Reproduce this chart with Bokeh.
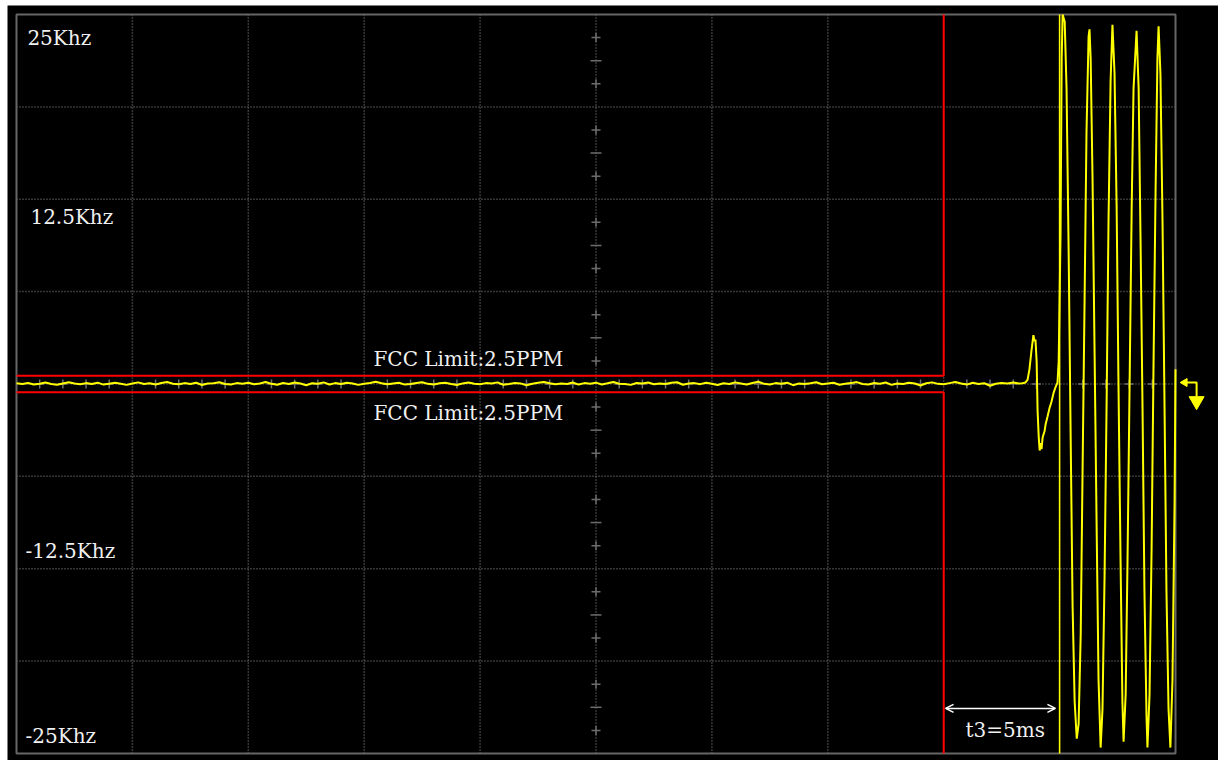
import numpy as np
from bokeh.plotting import figure
from bokeh.models import Range1d, ColumnDataSource, Arrow, OpenHead
from bokeh.core.properties import value
from bokeh.embed import file_html
from bokeh.resources import INLINE

# ---------------- data ----------------
# time in ms (5 ms / div, 10 div), frequency offset in kHz (6.25 kHz / div)
sample_step_ms = 0.25
baseline_khz = [
    0.05, 0.0, 0.07, -0.03, 0.02, 0.1, 0.0, -0.05, 0.04, 0.12, 0.03, -0.02, 0.06, 0.0, 0.09, -0.04, 0.02, 0.08, 0.01, -0.06,
    0.04, 0.11, 0.0, 0.05, -0.03, 0.07, 0.14, 0.02, -0.01, 0.06, 0.0, 0.09, -0.07, 0.03, 0.05, 0.12, 0.0, -0.04, 0.06, 0.02,
    0.08, -0.02, 0.04, 0.13, 0.01, -0.05, 0.07, 0.0, 0.1, 0.03, -0.08, 0.05, 0.02, 0.11, -0.03, 0.06, 0.0, 0.09, 0.04, -0.06,
    0.02, 0.07, 0.15, 0.05, -0.02, 0.03, 0.08, -0.04, 0.0, 0.06, 0.12, 0.01, -0.03, 0.05, 0.09, 0.0, -0.07, 0.04, 0.1, 0.02,
    -0.01, 0.06, 0.03, 0.11, -0.05, 0.0, 0.07, 0.04, -0.09, 0.02, 0.08, 0.13, 0.05, -0.02, 0.03, 0.0, 0.1, -0.04, 0.06, 0.01,
    0.09, -0.03, 0.05, 0.14, 0.02, 0.0, -0.06, 0.07, 0.03, 0.1, -0.02, 0.04, 0.0, 0.08, 0.12, -0.05, 0.03, 0.06, -0.01, 0.09,
    0.02, -0.07, 0.05, 0.0, 0.11, 0.04, -0.03, 0.07, 0.15, 0.01, -0.04, 0.06, 0.02, 0.09, -0.08, 0.03, 0.0, 0.05, 0.12, -0.02,
    0.04, 0.08, -0.05, 0.01, 0.06, 0.13, 0.0, -0.03, 0.07, 0.02, 0.1, -0.06, 0.04, 0.0, 0.08, 0.03, -0.1, 0.05, 0.11, 0.01,
    -0.02, 0.06, 0.14, 0.03, -0.04, 0.08, 0.0, 0.05, -0.12, 0.02, 0.07, 0.04, 0.1, 0.03,
]
event_t_ms = [
    43.40, 43.53, 43.62, 43.70, 43.79, 43.87, 43.92, 43.96, 44.01, 44.05, 44.10, 44.14, 44.18, 44.22, 44.27, 44.35,
    44.40, 44.48, 44.57, 44.65, 44.74, 44.83, 44.91, 44.96, 45.04, 45.09, 45.13, 45.22, 45.30, 45.39, 45.48, 45.56,
    45.65, 45.74, 45.82, 45.91, 45.99, 46.08, 46.16, 46.25, 46.29, 46.34, 46.42, 46.51, 46.60, 46.68, 46.77, 46.85,
    46.94, 47.03, 47.11, 47.20, 47.28, 47.37, 47.46, 47.54, 47.63, 47.71, 47.76, 47.85, 47.93, 48.02, 48.11, 48.19,
    48.32, 48.41, 48.49, 48.58, 48.66, 48.75, 48.79, 48.88, 48.97, 49.05, 49.14, 49.22, 49.27, 49.35, 49.44, 49.53,
    49.61, 49.70, 49.78, 49.87, 49.96, 50.00,
]
event_khz = [
    0.05, 0.10, 0.3, 1.0, 2.3, 3.3, 2.9, 3.0, 1.5, -1.8, -3.6, -4.5, -4.0, -4.4, -3.6, -3.2,
    -2.7, -2.2, -1.6, -1.2, -0.6, -0.2, 0.1, 1.5, 10.0, 22.0, 25.0, 24.5, 20.0, 9.0, -4.0, -15.0,
    -21.5, -24.0, -23.0, -17.0, -6.0, 6.0, 17.0, 23.5, 24.0, 22.0, 14.0, 2.0, -10.0, -20.0, -24.6, -22.0,
    -13.0, -1.0, 11.0, 20.5, 24.3, 21.0, 12.0, 0.0, -12.0, -21.5, -24.2, -21.0, -12.0, 0.0, 12.0, 20.0,
    23.9, 20.0, 10.0, -2.0, -14.0, -22.5, -24.6, -21.0, -11.0, 1.0, 13.0, 22.0, 24.2, 21.0, 11.0, -2.0,
    -14.0, -22.0, -24.6, -20.0, -8.0, 1.0,
]
fcc_limit_khz = 0.55
limit_end_ms = 40.0
cursor_ms = 45.0
trigger_level_khz = 0.0
y_labels = ["25Khz", "12.5Khz", "-12.5Khz", "-25Khz"]
limit_label = "FCC Limit:2.5PPM"
t3_label = "t3=5ms"

# ---------------- figure ----------------
X0, X1 = 0.0, 50.0
Y0, Y1 = -25.0, 25.0
p = figure(width=1218, height=760, x_range=Range1d(-0.388, 51.855), y_range=Range1d(-25.474, 25.609),
           x_axis_type=None, y_axis_type=None, output_backend="svg", toolbar_location=None,
           min_border_left=7, min_border_top=5, min_border_right=0, min_border_bottom=0,
           background_fill_color="black", border_fill_color="white",
           outline_line_color=None)

grid_col = "#6c6c6c"
gx = np.arange(5, 50, 5.0)
gy = np.array([-18.75, -12.5, -6.25, 0, 6.25, 12.5, 18.75])
p.segment(x0=gx, y0=Y0, x1=gx, y1=Y1, line_color=grid_col, line_width=1.5, line_dash="1 2")
p.segment(x0=X0, y0=gy, x1=X1, y1=gy, line_color=grid_col, line_width=1.5, line_dash="1 2")

# center minor ticks
hx = np.array([t for t in np.arange(1, 50, 1.0) if t % 5 != 0])
p.scatter(hx, np.zeros_like(hx), marker="cross", size=9, line_color=grid_col, line_width=1.5)
k = np.array([k for k in range(-15, 16) if k % 4 != 0])
vy = k * 1.5625
cross_y = vy[k % 2 != 0]
dash_y = vy[k % 2 == 0]
p.scatter(np.full_like(cross_y, 25.0), cross_y, marker="cross", size=9, line_color=grid_col, line_width=1.5)
p.scatter(np.full_like(dash_y, 25.0), dash_y, marker="dash", size=11, line_color=grid_col, line_width=1.5)

# frame outline
p.quad(left=X0, right=X1, bottom=Y0, top=Y1, fill_alpha=0, line_color="#666666", line_width=2)

# FCC limit lines
red = "#ff0000"
p.line([X0, limit_end_ms, limit_end_ms], [fcc_limit_khz, fcc_limit_khz, Y1], line_color=red, line_width=2)
p.line([X0, limit_end_ms, limit_end_ms], [-fcc_limit_khz, -fcc_limit_khz, Y0], line_color=red, line_width=2)

# cursor line
p.segment(x0=cursor_ms, y0=Y0, x1=cursor_ms, y1=Y1, line_color="#ffff00", line_width=1.5)

# trace
t_base = np.arange(len(baseline_khz)) * sample_step_ms
src = ColumnDataSource(dict(t=list(t_base) + event_t_ms, f=baseline_khz + event_khz))
p.line("t", "f", source=src, line_color="#ffff00", line_width=2)

# trigger marker (right of frame)
yel = "#ffff00"
p.line([50.38, 50.91, 50.91], [trigger_level_khz + 0.1, trigger_level_khz + 0.1, trigger_level_khz - 0.85],
       line_color=yel, line_width=2)
p.scatter([50.40], [trigger_level_khz + 0.1], marker="triangle", angle=np.pi / 2, size=8,
          fill_color=yel, line_color=yel)
p.scatter([50.91], [trigger_level_khz - 1.15], marker="inverted_triangle", size=15,
          fill_color=yel, line_color=yel)

# texts
font = value("DejaVu Serif")
txt = dict(text_color="#f0f0f0", text_font=font, text_font_size="20px", text_baseline="middle")
p.text(x=[0.47, 0.60, 0.39, 0.39], y=[23.38, 11.27, -11.33, -23.79], text=y_labels, **txt)
p.text(x=[15.40, 15.40], y=[1.66, -1.93], text=[limit_label, limit_label], **txt)
p.text(x=[40.94], y=[-23.39], text=[t3_label], **txt)

p.add_layout(Arrow(start=OpenHead(size=8, line_color="white", line_width=1.5),
                   end=OpenHead(size=8, line_color="white", line_width=1.5),
                   x_start=40.08, y_start=-21.95, x_end=44.82, y_end=-21.95,
                   line_color="white", line_width=1.5))

open("out.html", "w").write(file_html(p, INLINE))
